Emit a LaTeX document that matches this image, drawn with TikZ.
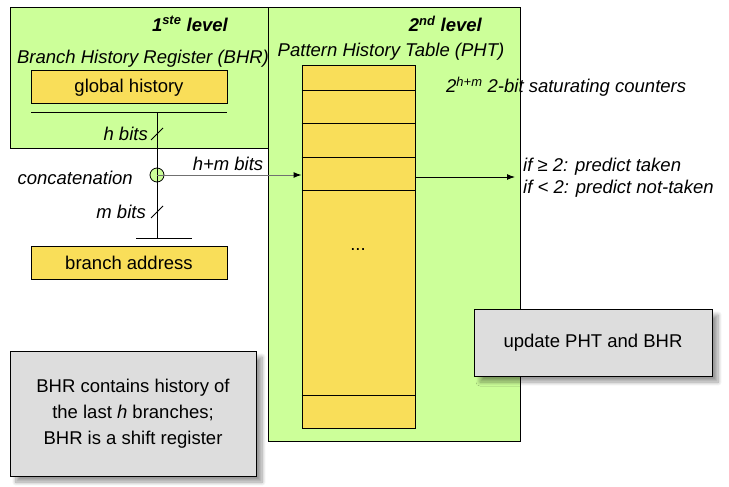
\documentclass[tikz,border=0pt]{standalone}
\usepackage{fontspec}
\setmainfont{Liberation Sans}
\usetikzlibrary{arrows.meta,shadows.blur}
\definecolor{lgreen}{HTML}{CCFF99}
\definecolor{ylw}{HTML}{F9DE59}
\definecolor{gbox}{HTML}{DDDDDD}
\definecolor{wiregray}{HTML}{707070}
\begin{document}
\begin{tikzpicture}[x=1pt,y=-1pt,
  font=\fontsize{18.5}{22}\selectfont,
  every node/.style={inner sep=0pt},
  area/.style={fill=lgreen, draw=black, line width=1pt},
  ybox/.style={fill=ylw, draw=black, line width=1pt, minimum width=196pt, minimum height=33pt},
  note/.style={fill=gbox, draw=black, line width=1pt, align=center,
    blur shadow={shadow xshift=6pt, shadow yshift=-6pt, shadow blur steps=8, shadow blur radius=4pt}},
  lbl/.style={font=\fontsize{18.5}{22}\selectfont\itshape},
  wire/.style={line width=1pt},
  tip/.style={-{Latex[length=8pt,width=6pt]}}]
\useasboundingbox (0,0) rectangle (729,487);
% green areas
\node[area, minimum width=252pt, minimum height=433pt] (lvl2) at (394,224.5) {};
\node[area, minimum width=258pt, minimum height=140pt] (lvl1) at (139,78) {};
% titles
\node[font=\fontsize{18.5}{22}\selectfont\bfseries\itshape, anchor=east] (t1) at (228,24) {1\textsuperscript{ste} level};
\node[lbl] (bhrt) at (143,59) {Branch History Register (BHR)};
\node[font=\fontsize{18.5}{22}\selectfont\bfseries\itshape, anchor=east] (t2) at (482,24) {2\textsuperscript{nd} level};
\node[lbl] (phtt) at (391,52) {Pattern History Table (PHT)};
\node[lbl, anchor=west] (cnt) at (446,87) {2\textsuperscript{h+m} 2-bit saturating counters};
% BHR
\node[ybox] (gh) at (129,87.5) {global history};
\coordinate (ul) at (31,113);
\coordinate (ur) at (227,113);
\draw[wire] (ul) -- (ur);
\coordinate (top) at (157,113);
\coordinate (bot) at (157,238);
\coordinate (bl) at (136,238);
\coordinate (br) at (192,238);
\draw[wire] (top) -- (bot);
\draw[wire] (bl) -- (br);
% branch address
\node[ybox] (ba) at (129,262.5) {branch address};
% slashes
\coordinate (hs1) at (151,140);
\coordinate (hs2) at (163,128);
\draw[wire] (hs1) -- (hs2);
\node[lbl, anchor=east] (hb) at (148,134) {h bits};
\coordinate (ms1) at (151,218);
\coordinate (ms2) at (163,206);
\draw[wire] (ms1) -- (ms2);
\node[lbl, anchor=east] (mb) at (146,212) {m bits};
% PHT table
\node[fill=ylw, draw=black, line width=1pt, minimum width=113pt, minimum height=362pt] (pht) at (358.5,247) {};
\foreach \yy in {91,124,157,190,395}
  \draw[wire] (pht.west |- 0,\yy) -- (pht.east |- 0,\yy);
\node (dots) at (358,250) {...};
% concatenation
\node[circle, fill=lgreen, draw=black, line width=0.8pt, minimum size=14pt] (cc) at (157,175) {};
\draw[wire] (cc.north) -- (cc.south);
\draw[wire, wiregray, -{Latex[length=8pt,width=6pt,fill=black,color=black]}] (cc.center) -- (cc.center -| pht.west);
\node[lbl, anchor=east] (conc) at (133,178) {concatenation};
\node[lbl] (hm) at (228,164) {h+m bits};
% output
\coordinate (outend) at (515,177);
\draw[wire, tip] (pht.east |- outend) -- (outend);
\node[lbl, anchor=west] (p1) at (523,167) {if ≥ 2: predict taken};
\node[lbl, anchor=west] (p2) at (523,189) {if < 2: predict not-taken};
% notes
\node[note, minimum width=238pt, minimum height=67pt] (upd) at (593,342.5) {update PHT and BHR};
\node[note, minimum width=246pt, minimum height=125pt, font=\fontsize{18.5}{26}\selectfont] (bhrn) at (133,413.5)
  {BHR contains history of\\the last \textit{h} branches;\\BHR is a shift register};
\end{tikzpicture}
\end{document}
